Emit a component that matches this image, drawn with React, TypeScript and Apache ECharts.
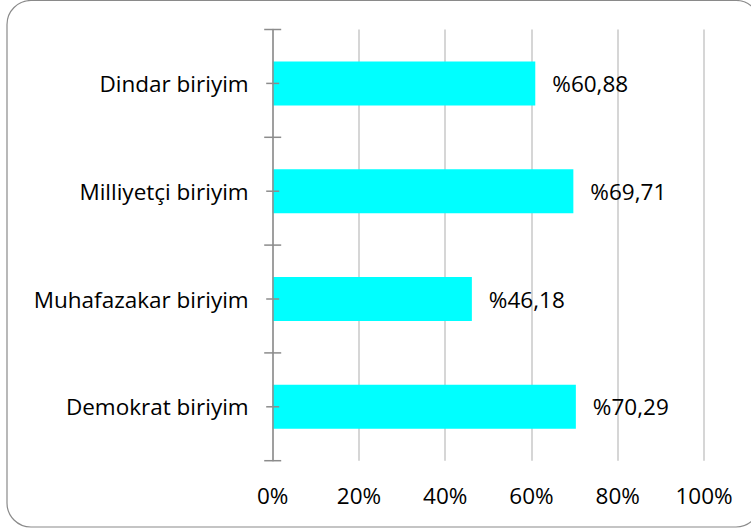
import React, { useEffect, useRef } from "react";
import * as echarts from "echarts";

const categories = ["Dindar biriyim", "Milliyetçi biriyim", "Muhafazakar biriyim", "Demokrat biriyim"];
const values = [60.88, 69.71, 46.18, 70.29];
const xTicks = [0, 20, 40, 60, 80, 100];

const FONT = "Open Sans";
const FS = 22.5;
const AXIS_GRAY = "#8c8c8c";
const MAJOR = 8.5;
const MINOR = 6.5;

export default function App() {
  const ref = useRef<HTMLDivElement>(null);
  useEffect(() => {
    if (!ref.current) return;
    const chart = echarts.init(ref.current, null, { renderer: "svg" });
    const tickStyle = { stroke: AXIS_GRAY, lineWidth: 1.5 };
    chart.setOption({
      animation: false,
      backgroundColor: "#fff",
      graphic: [
        {
          type: "rect",
          shape: { x: 7, y: 0.5, width: 753, height: 526.5, r: 24 },
          style: { fill: "none", stroke: "#8a8a8a", lineWidth: 1.2 },
          z: -10,
        },
      ],
      grid: { left: 272.7, right: 47, top: 29.5, height: 431.2, containLabel: false },
      xAxis: {
        type: "value",
        min: xTicks[0],
        max: xTicks[xTicks.length - 1],
        interval: 20,
        axisLine: { show: false },
        axisTick: { show: false },
        axisLabel: { margin: 23, fontSize: FS, color: "#000", fontFamily: FONT, formatter: (v: number) => v + "%" },
        splitLine: { show: true, lineStyle: { color: "#c8c8c8", width: 1.5 } },
      },
      yAxis: {
        type: "category",
        data: categories,
        inverse: true,
        position: "left",
        z: 5,
        axisLine: { show: true, lineStyle: { color: AXIS_GRAY, width: 1.5 } },
        axisTick: { show: false },
        axisLabel: { show: true, margin: 24, fontSize: FS, color: "#000", fontFamily: FONT },
        splitLine: { show: false },
      },
      series: [
        {
          type: "bar",
          data: values,
          barWidth: 44,
          z: 2,
          itemStyle: { color: "#00ffff" },
          label: {
            show: true,
            position: "right",
            distance: 17,
            fontSize: FS,
            color: "#000",
            fontFamily: FONT,
            formatter: (p: any) => "%" + p.value.toFixed(2).replace(".", ","),
          },
        },
        {
          // crossing tick marks on the category axis: major at band boundaries, minor at band centres
          type: "custom",
          z: 6,
          silent: true,
          clip: false,
          data: categories.map((c, i) => [0, i]),
          renderItem: (params: any, api: any) => {
            const idx = api.value(1);
            const c = api.coord([0, idx]);
            const band = api.size([0, 1])[1];
            const x = c[0];
            const y = c[1];
            const children: any[] = [
              { type: "line", shape: { x1: x - MINOR, y1: y, x2: x + MINOR, y2: y }, style: tickStyle },
              { type: "line", shape: { x1: x - MAJOR, y1: y - band / 2, x2: x + MAJOR, y2: y - band / 2 }, style: tickStyle },
            ];
            if (idx === categories.length - 1) {
              children.push({ type: "line", shape: { x1: x - MAJOR, y1: y + band / 2, x2: x + MAJOR, y2: y + band / 2 }, style: tickStyle });
            }
            return { type: "group", children };
          },
        },
      ],
    });
    return () => chart.dispose();
  }, []);
  return <div ref={ref} style={{ position: "fixed", left: 0, top: 0, width: 751, height: 531 }} />;
}
